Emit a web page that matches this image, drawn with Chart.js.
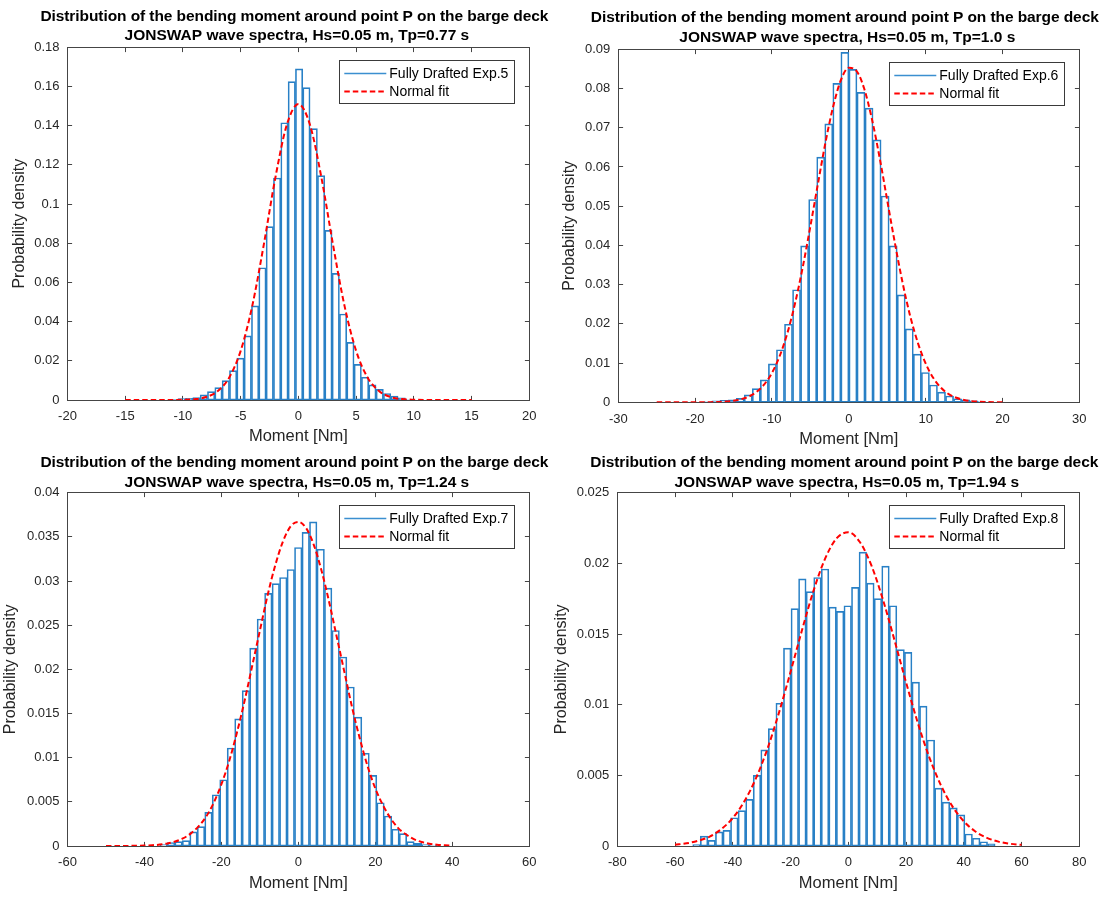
<!DOCTYPE html>
<html>
<head>
<meta charset="utf-8">
<title>Bending moment distributions</title>
<script src="https://cdn.jsdelivr.net/npm/chart.js@4.4.1/dist/chart.umd.min.js"></script>
<style>
  html, body { margin: 0; padding: 0; background: #ffffff; overflow: hidden; }
  #page { position: relative; width: 1109px; height: 897px; overflow: hidden; background: #ffffff; }
  #page canvas { position: absolute; }
</style>
</head>
<body>
<div id="page">
  <canvas id="exp5"></canvas>
  <canvas id="exp6"></canvas>
  <canvas id="exp7"></canvas>
  <canvas id="exp8"></canvas>
</div>
<script>
// ---------- text ----------
const titleLine1 = 'Distribution of the bending moment around point P on the barge deck';
const titleLine2 = [
  'JONSWAP wave spectra, Hs=0.05 m, Tp=0.77 s',
  'JONSWAP wave spectra, Hs=0.05 m, Tp=1.0 s',
  'JONSWAP wave spectra, Hs=0.05 m, Tp=1.24 s',
  'JONSWAP wave spectra, Hs=0.05 m, Tp=1.94 s'
];
const histLabels = ['Fully Drafted Exp.5', 'Fully Drafted Exp.6', 'Fully Drafted Exp.7', 'Fully Drafted Exp.8'];
const fitLabel = 'Normal fit';
const xAxisTitle = 'Moment [Nm]';
const yAxisTitle = 'Probability density';

// ---------- Exp.5 (Tp = 0.77 s) ----------
const exp5Centers = [-10.735, -10.1, -9.465, -8.83, -8.195, -7.56, -6.925, -6.29, -5.655, -5.02, -4.385,
  -3.75, -3.115, -2.48, -1.845, -1.21, -0.575, 0.06, 0.695, 1.33, 1.965, 2.6, 3.235, 3.87, 4.505,
  5.14, 5.775, 6.41, 7.045, 7.68, 8.315, 8.95, 9.585];
const exp5Density = [0.0003, 0.0007, 0.0009, 0.0012, 0.0026, 0.0043, 0.0063, 0.0099, 0.015, 0.0214, 0.0327,
  0.048, 0.0675, 0.0885, 0.1133, 0.1415, 0.1625, 0.169, 0.1594, 0.1385, 0.1145, 0.0866, 0.0646, 0.0439, 0.0294,
  0.0182, 0.0116, 0.0077, 0.0054, 0.0033, 0.002, 0.0011, 0.0004];
const exp5FitX = [-15, -14, -13, -12, -11, -10, -9, -8, -7, -6, -5, -4, -3, -2, -1, 0,
  1, 2, 3, 4, 5, 6, 7, 8, 9, 10, 11, 12, 13, 14, 15];
const exp5FitY = [0, 0, 0, 0.00001, 0.00003, 0.00012, 0.00045, 0.0015, 0.0045, 0.0114, 0.0251, 0.0479, 0.0792, 0.1133, 0.1405, 0.151,
  0.1405, 0.1133, 0.0792, 0.0479, 0.0251, 0.0114, 0.0045, 0.0015, 0.00045, 0.00012, 0.00003, 0.00001, 0, 0, 0];
const exp5XTicks = [-20, -15, -10, -5, 0, 5, 10, 15, 20];
const exp5YTicks = [0, 0.02, 0.04, 0.06, 0.08, 0.1, 0.12, 0.14, 0.16, 0.18];

// ---------- Exp.6 (Tp = 1.0 s) ----------
const exp6Centers = [-18.326, -17.278, -16.23, -15.182, -14.134, -13.086, -12.038, -10.99, -9.942, -8.894,
  -7.846, -6.798, -5.75, -4.702, -3.654, -2.606, -1.558, -0.51, 0.538, 1.586, 2.634, 3.682, 4.73, 5.778,
  6.826, 7.874, 8.922, 9.97, 11.018, 12.066, 13.114, 14.162, 15.21, 16.258, 17.306];
const exp6Density = [0.0002, 0.0004, 0.0005, 0.0006, 0.001, 0.0019, 0.0035, 0.0057, 0.0098, 0.0134,
  0.0199, 0.0287, 0.0399, 0.0517, 0.0625, 0.071, 0.0813, 0.0892, 0.0849, 0.079, 0.075, 0.0669, 0.0526, 0.0399,
  0.0274, 0.0187, 0.0123, 0.0076, 0.0044, 0.0026, 0.0016, 0.0009, 0.0006, 0.0004, 0.0002];
const exp6FitX = [-25, -22, -20, -18, -17, -16, -15, -14, -13, -12, -11, -10, -9, -8, -7, -6, -5, -4, -3, -2, -1, 0,
  1, 2, 3, 4, 5, 6, 7, 8, 9, 10, 11, 12, 13, 14, 15, 16, 17, 18, 20];
const exp6FitY = [0, 0.000001, 0.000007, 0.00004, 0.00009, 0.00019, 0.0004, 0.00079, 0.00148, 0.00266, 0.00457,
  0.0075, 0.01176, 0.0176, 0.0252, 0.0344, 0.0449, 0.0559, 0.0666, 0.0757, 0.0823, 0.0853,
  0.0845, 0.08, 0.0723, 0.0625, 0.0515, 0.0406, 0.0305, 0.0219, 0.0151, 0.0099, 0.0062, 0.0037, 0.0021,
  0.00115, 0.0006, 0.0003, 0.00014, 0.000065, 0.00001];
const exp6XTicks = [-30, -20, -10, 0, 10, 20, 30];
const exp6YTicks = [0, 0.01, 0.02, 0.03, 0.04, 0.05, 0.06, 0.07, 0.08, 0.09];

// ---------- Exp.7 (Tp = 1.24 s) ----------
const exp7Centers = [-35.03, -33.086, -31.142, -29.198, -27.254, -25.31, -23.366, -21.422, -19.478, -17.534,
  -15.59, -13.646, -11.702, -9.758, -7.814, -5.87, -3.926, -1.982, -0.038, 1.906, 3.85, 5.794, 7.738, 9.682,
  11.626, 13.57, 15.514, 17.458, 19.402, 21.346, 23.29, 25.234, 27.178, 29.122, 31.066, 33.01, 34.954];
const exp7Density = [0.00015, 0.0004, 0.0005, 0.0006, 0.0016, 0.0022, 0.0038, 0.0058, 0.0075, 0.0111,
  0.0144, 0.0176, 0.0224, 0.0257, 0.0286, 0.0297, 0.0304, 0.0313, 0.0338, 0.0355, 0.0367, 0.0336, 0.0292, 0.0244,
  0.0214, 0.018, 0.0146, 0.0105, 0.008, 0.0049, 0.0034, 0.0019, 0.0014, 0.0005, 0.0003, 0.00015, 0.0001];
const exp7FitX = [-50, -46, -42, -40, -38, -36, -34, -32, -30, -28, -26, -24, -22, -20, -18, -16, -14, -12, -10, -8, -6, -4, -2, 0,
  2, 4, 6, 8, 10, 12, 14, 16, 18, 20, 22, 24, 26, 28, 30, 32, 34, 36, 38, 40];
const exp7FitY = [0.000001, 0.000005, 0.000023, 0.000045, 0.000087, 0.00016, 0.00029, 0.00051, 0.00086, 0.0014,
  0.0022, 0.0033, 0.0049, 0.007, 0.0096, 0.0128, 0.0164, 0.0204, 0.0244, 0.0284, 0.0318, 0.0345, 0.0362, 0.0367,
  0.036, 0.0341, 0.0312, 0.0276, 0.0236, 0.0196, 0.0156, 0.0121, 0.009, 0.0065, 0.0046, 0.0031, 0.002, 0.0013,
  0.00077, 0.00046, 0.00026, 0.00014, 0.000076, 0.000039];
const exp7XTicks = [-60, -40, -20, 0, 20, 40, 60];
const exp7YTicks = [0, 0.005, 0.01, 0.015, 0.02, 0.025, 0.03, 0.035, 0.04];

// ---------- Exp.8 (Tp = 1.94 s) ----------
const exp8Centers = [-52.566, -49.948, -47.33, -44.712, -42.094, -39.476, -36.858, -34.24, -31.622, -29.004,
  -26.386, -23.768, -21.15, -18.532, -15.914, -13.296, -10.678, -8.06, -5.442, -2.824, -0.206, 2.412, 5.03,
  7.648, 10.266, 12.884, 15.502, 18.12, 20.738, 23.356, 25.974, 28.592, 31.21, 33.828, 36.446, 39.064,
  41.682, 44.3, 46.918, 49.536];
const exp8Density = [0.0001, 0.0007, 0.0004, 0.001, 0.0011, 0.002, 0.0025, 0.0033, 0.005, 0.0068,
  0.0083, 0.0101, 0.014, 0.0168, 0.0189, 0.018, 0.019, 0.0196, 0.0169, 0.0166, 0.017, 0.0183, 0.0208,
  0.0186, 0.0175, 0.0198, 0.017, 0.0139, 0.0137, 0.0116, 0.0099, 0.0075, 0.0041, 0.0031, 0.0027, 0.0022,
  0.00085, 0.00055, 0.0003, 0.00015];
const exp8FitX = [-60, -56, -52, -48, -44, -40, -36, -32, -28, -24, -20, -16, -12, -8, -4, 0,
  4, 8, 12, 16, 20, 24, 28, 32, 36, 40, 44, 48, 52, 56, 60];
const exp8FitY = [0.00009, 0.00019, 0.00037, 0.00067, 0.00119, 0.00198, 0.00316, 0.00478, 0.00688, 0.00944,
  0.01232, 0.0153, 0.01809, 0.02035, 0.02178, 0.0222, 0.02151, 0.01985, 0.01743, 0.01456, 0.01158, 0.00876,
  0.00631, 0.00433, 0.00282, 0.00175, 0.00103, 0.00058, 0.00031, 0.00016, 0.00008];
const exp8XTicks = [-80, -60, -40, -20, 0, 20, 40, 60, 80];
const exp8YTicks = [0, 0.005, 0.01, 0.015, 0.02, 0.025];

// ---------- styling ----------
const FONT = "'Liberation Sans', Arial, Helvetica, sans-serif";
const INK = '#262626';
const AXIS_LINE = '#454545';
const HIST_BLUE = '#2880c6';
const FIT_RED = '#ff0000';

const fmt = v => String(parseFloat(Number(v).toFixed(6)));

// Box around the axes with inward tick marks on all four sides
const boxAxes = {
  id: 'boxAxes',
  beforeDatasetsDraw(chart, args, opts) {
    const { ctx, chartArea: a } = chart;
    const xs = chart.scales.x, ys = chart.scales.y;
    const L = Math.floor(a.left) + 0.5, R = Math.floor(a.right) + 0.5;
    const T = Math.floor(a.top) + 0.5, B = Math.floor(a.bottom) + 0.5;
    const len = opts.tickLength;
    ctx.save();
    ctx.strokeStyle = AXIS_LINE;
    ctx.lineWidth = 1;
    ctx.beginPath();
    xs.ticks.forEach(t => {
      const px = Math.floor(xs.getPixelForValue(t.value)) + 0.5;
      ctx.moveTo(px, B); ctx.lineTo(px, B - len);
      ctx.moveTo(px, T); ctx.lineTo(px, T + len);
    });
    ys.ticks.forEach(t => {
      const py = Math.floor(ys.getPixelForValue(t.value)) + 0.5;
      ctx.moveTo(L, py); ctx.lineTo(L + len, py);
      ctx.moveTo(R, py); ctx.lineTo(R - len, py);
    });
    ctx.stroke();
    ctx.strokeRect(L, T, R - L, B - T);
    ctx.restore();
  }
};

// Two-line bold heading centred over the axes; a line may be tracked out to a set width
const twoLineTitle = {
  id: 'twoLineTitle',
  afterDraw(chart, args, o) {
    const { ctx, chartArea: a } = chart;
    const mid = (a.left + a.right) / 2;
    ctx.save();
    ctx.font = 'bold ' + o.size + 'px ' + FONT;
    ctx.fillStyle = '#000000';
    ctx.textBaseline = 'middle';
    o.lines.forEach((line, i) => {
      const cx = mid + o.shiftX[i];
      const target = o.widths[i];
      if (!target) {
        ctx.textAlign = 'center';
        ctx.fillText(line, cx, o.y[i]);
        return;
      }
      ctx.textAlign = 'left';
      const chars = Array.from(line);
      const w = chars.map(c => ctx.measureText(c).width);
      const natural = w.reduce((s, v) => s + v, 0);
      const extra = chars.length > 1 ? (target - natural) / (chars.length - 1) : 0;
      let x = cx - target / 2;
      chars.forEach((c, k) => { ctx.fillText(c, x, o.y[i]); x += w[k] + extra; });
    });
    ctx.restore();
  }
};

// Boxed legend in the upper-right corner of the axes
const boxLegend = {
  id: 'boxLegend',
  afterDraw(chart, args, o) {
    const { ctx, chartArea: a } = chart;
    const right = a.right - o.insetRight;
    const top = a.top + o.insetTop;
    const left = right - o.width;
    ctx.save();
    ctx.fillStyle = '#ffffff';
    ctx.fillRect(left, top, o.width, o.height);
    ctx.strokeStyle = '#3a3a3a';
    ctx.lineWidth = 1;
    ctx.strokeRect(Math.floor(left) + 0.5, Math.floor(top) + 0.5, Math.round(o.width), Math.round(o.height));
    ctx.font = o.fontSize + 'px ' + FONT;
    ctx.textBaseline = 'middle';
    ctx.textAlign = 'left';
    chart.data.datasets.forEach((ds, i) => {
      const cy = Math.floor(top + o.rows[i]) + 0.5;
      ctx.strokeStyle = ds.legendColor;
      ctx.lineWidth = ds.legendWidth;
      ctx.setLineDash(ds.borderDash || []);
      ctx.beginPath();
      ctx.moveTo(left + o.sampleStart, cy);
      ctx.lineTo(left + o.sampleEnd, cy);
      ctx.stroke();
      ctx.setLineDash([]);
      ctx.fillStyle = '#000000';
      ctx.fillText(ds.label, left + o.textStart, cy + 0.5);
    });
    ctx.restore();
  }
};

// Page placement of each canvas and of its axes box
const panelFrames = [
  { id: 'exp5', box: { left: 0,   top: 0,   width: 560, height: 449 }, plot: { left: 67.5,  top: 47.3,  right: 529.3,  bottom: 400 },   titleY: 16.5,  yTitleX: 19.6,  xTitleY: 436.7 },
  { id: 'exp6', box: { left: 548, top: 0,   width: 561, height: 449 }, plot: { left: 618.3, top: 49.3,  right: 1079.3, bottom: 402.3 }, titleY: 18,    yTitleX: 569.6, xTitleY: 439 },
  { id: 'exp7', box: { left: 0,   top: 449, width: 560, height: 448 }, plot: { left: 67.5,  top: 492.7, right: 529.3,  bottom: 846 },   titleY: 463,   yTitleX: 10.9,  xTitleY: 883 },
  { id: 'exp8', box: { left: 548, top: 449, width: 561, height: 448 }, plot: { left: 617.3, top: 492.7, right: 1079.3, bottom: 846 },   titleY: 463,   yTitleX: 561.4, xTitleY: 883 }
];

const panelData = [
  { centers: exp5Centers, density: exp5Density, fitX: exp5FitX, fitY: exp5FitY, xTicks: exp5XTicks, yTicks: exp5YTicks },
  { centers: exp6Centers, density: exp6Density, fitX: exp6FitX, fitY: exp6FitY, xTicks: exp6XTicks, yTicks: exp6YTicks },
  { centers: exp7Centers, density: exp7Density, fitX: exp7FitX, fitY: exp7FitY, xTicks: exp7XTicks, yTicks: exp7YTicks },
  { centers: exp8Centers, density: exp8Density, fitX: exp8FitX, fitY: exp8FitY, xTicks: exp8XTicks, yTicks: exp8YTicks }
];

const TITLE_SIZE = 15.5, TITLE_GAP = 19.5, TITLE_LINE1_WIDTH = 508;
const X_TITLE_SIZE = 16.5, Y_TITLE_SIZE = 16, AXIS_TITLE_LH = 1.2;
const TICK_SIZE = 13;

function buildPanel(frame, d, idx) {
  const canvas = document.getElementById(frame.id);
  const { box, plot } = frame;
  canvas.width = box.width;
  canvas.height = box.height;
  canvas.style.left = box.left + 'px';
  canvas.style.top = box.top + 'px';
  canvas.style.width = box.width + 'px';
  canvas.style.height = box.height + 'px';

  const yAxisWidth = plot.left - box.left;
  const padRight = box.left + box.width - plot.right;
  const padTop = plot.top - box.top;
  const xAxisHeight = box.top + box.height - plot.bottom;
  const xLine = X_TITLE_SIZE * AXIS_TITLE_LH;
  const yLine = Y_TITLE_SIZE * AXIS_TITLE_LH;
  const xTitlePad = (box.top + box.height) - frame.xTitleY - xLine / 2;
  const yTitlePad = frame.yTitleX - box.left - yLine / 2;
  const t1 = frame.titleY - box.top;

  const xMin = d.xTicks[0], xMax = d.xTicks[d.xTicks.length - 1];
  const yMin = d.yTicks[0], yMax = d.yTicks[d.yTicks.length - 1];

  return new Chart(canvas, {
    type: 'bar',
    data: {
      datasets: [
        {
          type: 'bar',
          label: histLabels[idx],
          data: d.centers.map((c, i) => ({ x: c, y: d.density[i] })),
          backgroundColor: 'rgba(255,255,255,0)',
          borderColor: HIST_BLUE,
          borderWidth: 1,
          borderSkipped: false,
          barPercentage: 1,
          categoryPercentage: 1,
          order: 2,
          legendColor: '#3b8fd0',
          legendWidth: 1.6
        },
        {
          type: 'line',
          label: fitLabel,
          data: d.fitX.map((x, i) => ({ x: x, y: d.fitY[i] })),
          borderColor: FIT_RED,
          borderWidth: 2,
          borderDash: [5.5, 3],
          pointRadius: 0,
          fill: false,
          cubicInterpolationMode: 'monotone',
          order: 1,
          legendColor: FIT_RED,
          legendWidth: 2
        }
      ]
    },
    options: {
      responsive: false,
      animation: false,
      events: [],
      devicePixelRatio: 1,
      layout: { padding: { left: 0, right: padRight, top: padTop, bottom: 0 } },
      scales: {
        x: {
          type: 'linear',
          min: xMin, max: xMax,
          offset: false,
          grid: { display: false, drawTicks: false },
          border: { display: false },
          afterBuildTicks: s => { s.ticks = d.xTicks.map(v => ({ value: v })); },
          afterFit: s => { s.height = xAxisHeight; },
          ticks: {
            autoSkip: false, maxRotation: 0, minRotation: 0, padding: 9,
            color: INK, font: { family: FONT, size: TICK_SIZE },
            callback: v => fmt(v)
          },
          title: {
            display: true, text: xAxisTitle, color: INK,
            font: { family: FONT, size: X_TITLE_SIZE, lineHeight: AXIS_TITLE_LH },
            padding: { top: 0, bottom: xTitlePad }
          }
        },
        y: {
          type: 'linear',
          min: yMin, max: yMax,
          grid: { display: false, drawTicks: false },
          border: { display: false },
          afterBuildTicks: s => { s.ticks = d.yTicks.map(v => ({ value: v })); },
          afterFit: s => { s.width = yAxisWidth; },
          ticks: {
            autoSkip: false, padding: 8,
            color: INK, font: { family: FONT, size: TICK_SIZE },
            callback: v => fmt(v)
          },
          title: {
            display: true, text: yAxisTitle, color: INK,
            font: { family: FONT, size: Y_TITLE_SIZE, lineHeight: AXIS_TITLE_LH },
            padding: { top: yTitlePad, bottom: 0 }
          }
        }
      },
      plugins: {
        legend: { display: false },
        tooltip: { enabled: false },
        title: { display: false },
        twoLineTitle: {
          lines: [titleLine1, titleLine2[idx]],
          y: [t1, t1 + TITLE_GAP],
          size: TITLE_SIZE,
          widths: [TITLE_LINE1_WIDTH, 0],
          shiftX: [-4, -1.5]
        },
        boxAxes: { tickLength: 4.6 },
        boxLegend: {
          width: 175, height: 42.5, insetTop: 13.2, insetRight: 15,
          rows: [13, 31], sampleStart: 5, sampleEnd: 47, textStart: 50, fontSize: 14
        }
      }
    },
    plugins: [boxAxes, twoLineTitle, boxLegend]
  });
}

panelFrames.forEach((f, i) => buildPanel(f, panelData[i], i));
</script>
</body>
</html>
